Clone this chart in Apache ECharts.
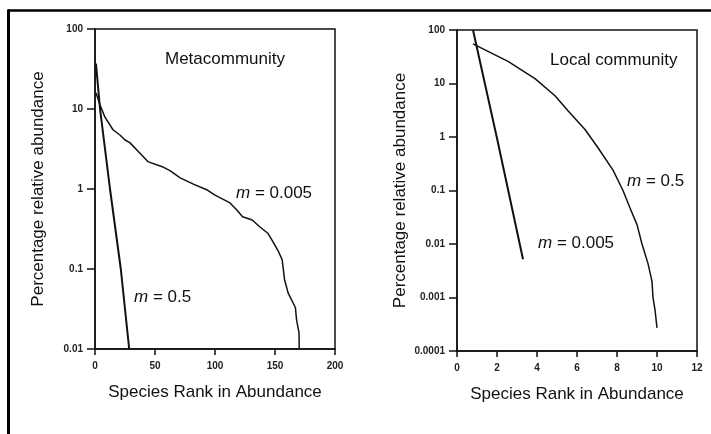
<!DOCTYPE html>
<html>
<head>
<meta charset="utf-8">
<script src="https://cdn.jsdelivr.net/npm/echarts@6/dist/echarts.min.js"></script>
<style>
  html, body { margin: 0; background: #fff; }
  #chart { width: 711px; height: 434px; }
</style>
</head>
<body>
<div id="chart"></div>
<script>
// ---------- data ----------

// Metacommunity, m = 0.5 (steep line)
const metaRankM05 = [0.8, 4.2, 12.5, 21.5, 28.5];
const metaAbundM05 = [37, 10, 1, 0.1, 0.01];

// Metacommunity, m = 0.005
const metaRankM0005 = [0.8, 4.2, 8.3, 15, 21, 25, 29, 37.5, 44, 56, 62.5, 71, 82, 93, 100,
  112.5, 118, 123, 131, 137.5, 144, 147.5, 152.5, 156, 158, 161, 167, 168, 170, 170.2];
const metaAbundM0005 = [16, 11.2, 7.9, 5.5, 4.7, 4.1, 3.8, 2.8, 2.2, 1.9, 1.7, 1.38, 1.15, 0.98, 0.84,
  0.67, 0.55, 0.45, 0.41, 0.335, 0.28, 0.23, 0.17, 0.13, 0.073, 0.05, 0.033, 0.023, 0.016, 0.01];

// Local community, m = 0.005 (steep line)
const localRankM0005 = [0.8, 2, 3.3];
const localAbundM0005 = [100, 0.95, 0.0052];

// Local community, m = 0.5
const localRankM05 = [0.8, 2.55, 3.9, 4.9, 5.55, 6.4, 7.05, 7.8, 8.3, 8.65, 9.0, 9.25, 9.55, 9.75, 9.8, 9.9, 10.0];
const localAbundM05 = [55, 26, 12.3, 5.9, 3.1, 1.38, 0.63, 0.24, 0.10, 0.047, 0.023, 0.010,
  0.0043, 0.002, 0.001, 0.00059, 0.00027];

const xTitle = 'Species Rank in Abundance';
const yTitle = 'Percentage relative abundance';

// ---------- helpers ----------

const ink = '#111';
const font = '"Liberation Sans", Arial, Helvetica, sans-serif';
const titleSize = 17;

function zip(xs, ys) {
  return xs.map((x, i) => [x, ys[i]]);
}

function logLabel(v) {
  return String(Number(Number(v).toPrecision(3)));
}

function xAxisOf(gridIndex, max, interval) {
  return {
    type: 'value', gridIndex, min: 0, max, interval,
    name: xTitle, nameLocation: 'middle', nameGap: 35,
    nameTextStyle: { fontFamily: font, fontSize: titleSize, color: ink },
    axisLine: { lineStyle: { color: ink, width: 1.5 } },
    axisTick: { show: true, length: 6, lineStyle: { color: ink, width: 1.5 } },
    axisLabel: { fontFamily: font, fontSize: 10, fontWeight: 'bold', color: '#222', margin: 12 },
    splitLine: { show: false },
  };
}

function yAxisOf(gridIndex, min) {
  return {
    type: 'log', logBase: 10, gridIndex, min, max: 100, interval: 1,
    name: yTitle, nameLocation: 'middle', nameGap: 48,
    nameTextStyle: { fontFamily: font, fontSize: titleSize, color: ink },
    axisLine: { lineStyle: { color: ink, width: 1.5 } },
    axisTick: { show: true, length: 8, lineStyle: { color: ink, width: 1.5 } },
    axisLabel: { fontFamily: font, fontSize: 10, fontWeight: 'bold', color: '#222', margin: 12, formatter: logLabel },
    splitLine: { show: false },
    minorTick: { show: false },
  };
}

function lineOf(idx, data, width) {
  return {
    type: 'line', xAxisIndex: idx, yAxisIndex: idx, data,
    showSymbol: false, silent: true, animation: false,
    lineStyle: { color: ink, width },
  };
}

function note(x, y, text) {
  return {
    type: 'text', x, y,
    style: {
      text, fill: ink, font: `${titleSize}px ${font}`, verticalAlign: 'middle',
      rich: { i: { fontStyle: 'italic', fontSize: titleSize, fontFamily: font, fill: ink } },
    },
  };
}

// ---------- chart ----------

const chart = echarts.init(document.getElementById('chart'), null, { renderer: 'canvas' });

chart.setOption({
  backgroundColor: '#fff',
  animation: false,
  grid: [
    { left: 95, top: 29, width: 240, height: 320, show: true, borderColor: ink, borderWidth: 1.5 },
    { left: 457, top: 30, width: 240, height: 321, show: true, borderColor: ink, borderWidth: 1.5 },
  ],
  xAxis: [xAxisOf(0, 200, 50), xAxisOf(1, 12, 2)],
  yAxis: [yAxisOf(0, 0.01), yAxisOf(1, 0.0001)],
  series: [
    lineOf(0, zip(metaRankM05, metaAbundM05), 2),
    lineOf(0, zip(metaRankM0005, metaAbundM0005), 1.5),
    lineOf(1, zip(localRankM0005, localAbundM0005), 2),
    lineOf(1, zip(localRankM05, localAbundM05), 1.5),
  ],
  graphic: [
    // outer frame (only the top and left edges are in view)
    { type: 'line', shape: { x1: 8, y1: 10.5, x2: 711, y2: 10.5 }, style: { stroke: '#000', lineWidth: 2.5 } },
    { type: 'line', shape: { x1: 8.5, y1: 9.5, x2: 8.5, y2: 434 }, style: { stroke: '#000', lineWidth: 3 } },
    note(165, 59, 'Metacommunity'),
    note(550, 60, 'Local community'),
    note(236, 193, '{i|m} = 0.005'),
    note(134, 297, '{i|m} = 0.5'),
    note(627, 181, '{i|m} = 0.5'),
    note(538, 243, '{i|m} = 0.005'),
  ],
});
</script>
</body>
</html>
